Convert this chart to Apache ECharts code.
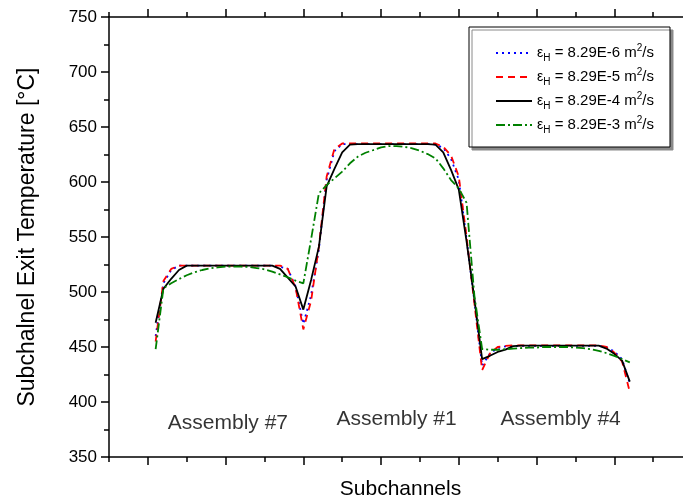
<!DOCTYPE html>
<html>
<head>
<meta charset="utf-8">
<script src="https://cdn.jsdelivr.net/npm/echarts@6/dist/echarts.min.js"></script>
<style>html,body{margin:0;padding:0;background:#fff}#c{width:683px;height:500px}</style>
</head>
<body>
<div id="c"></div>
<script>
// Subchannel positions (x)
const subchannels = [1,2,3,4,5,6,7,8,9,10,11,12,13,14,15,16,17,18,19,20,
  21,22,23,24,25,26,27,28,29,30,31,32,33,34,35,36,37,38,39,40,41,42,43,
  44,45,46,47,48,49,50,51,52,53,54,55,56,57,58,59,60,61,62];

// Series values (exit temperature, °C)
const tempE6 = [460,508,520,524,524,524,524,524,524,524,524,524,524,524,524,524,523,521,505,471,
  497,539,602,628,634.5,634.5,634.5,634.5,634.5,634.5,634.5,634.5,634.5,634.5,634.5,634.5,634,631,621,602,548,492,433,
  444,449,450.5,451,451,451,451,451,451,451,451,451,451,451,451,450,446,439,417];
const tempE5 = [455,510,521,524,524,524,524,524,524,524,524,524,524,524,524,524,524,521,504,466,
  492,541,605,630,635,635,635,635,635,635,635,635,635,635,635,635,635,632,624,605,550,490,429,
  444,450,451,451.5,451.5,451.5,451.5,451.5,451.5,451.5,451.5,451.5,451.5,451.5,451.5,450,445,437,409];
const tempE4 = [472,503,512,520,524,524,524,524,524,524,524,524,524,524,524,524,521,513,505,484,
  511,541,596,612,627,634,634.5,634.5,634.5,634.5,634.5,634.5,634.5,634.5,634.5,634.5,634,627,611,593,546,494,439,
  442,445.5,447.6,450.8,451.2,451.2,451.2,451.2,451.2,451.2,451.2,451.2,451.2,451.2,451.2,448.6,443.8,437.6,418.5];
const tempE3 = [448,503.4,507.9,511.8,515.2,517.9,520,521.5,522.4,523,523,523,522.7,521.8,520.6,518.5,516,513.4,510.3,507.9,
  548,589.7,597.2,603.3,609.4,617,623,626.6,629,631.5,632.7,632.7,632,630.6,628.4,625.4,621.5,612.4,601.8,594.2,581,497,448.2,
  447.5,447.5,448,448.5,449,449.5,449.5,450,450,450,450,449.5,449,448,446.5,444.5,442,439,436];

const coefficients = ['8.29E-6','8.29E-5','8.29E-4','8.29E-3'];
const seriesNames = coefficients.map(c => 'εH = ' + c + ' m2/s');

// Axis ticks
const xMajorTicks = [0,10,20,30,40,50,60,70];
const xMinorTicks = [-5,5,15,25,35,45,55,65];

// Annotations
const assemblyNames = ['Assembly #7','Assembly #1','Assembly #4'];
const assemblyX = [10.3, 32, 53.1];
const assemblyY = [380.5, 384, 384];

const FONT = 'Liberation Sans, Arial, sans-serif';
const chart = echarts.init(document.getElementById('c'), null, {renderer:'canvas'});

const lineStyles = [
  {color:'#0000ff', type:[2,4]},
  {color:'#ff0000', type:[7,5]},
  {color:'#000000', type:'solid'},
  {color:'#008000', type:[9,3,2,3]}
];
const dataSets = [tempE6, tempE5, tempE4, tempE3];

const X_MIN = -5, X_MAX = 70;
const gridBox = {left:109, top:17, right:-9, bottom:43, outerBoundsMode:'none', containLabel:false};
const axLine = {onZero:false, lineStyle:{color:'#000', width:1.5}};

const series = dataSets.map((arr, i) => ({
  type:'line', name: seriesNames[i], xAxisIndex:0, yAxisIndex:0,
  data: subchannels.map((x, k) => [x, arr[k]]),
  symbol:'none', showSymbol:false, smooth:false,
  lineStyle:{color:lineStyles[i].color, type:lineStyles[i].type, width:1.8},
  itemStyle:{color:lineStyles[i].color},
  z: 2 + i
}));
series.push({
  type:'scatter', name:'annotations', xAxisIndex:0, yAxisIndex:0,
  symbolSize:0, silent:true,
  data: assemblyNames.map((n, i) => ({name:n, value:[assemblyX[i], assemblyY[i]]})),
  label:{show:true, position:'inside', formatter: p => p.name, color:'#000', fontSize:21, fontFamily:FONT}
});

const option = {
  animation:false,
  backgroundColor:'#fff',
  textStyle:{fontFamily:FONT},
  grid:[Object.assign({}, gridBox), Object.assign({}, gridBox)],
  xAxis:[
    {type:'value', gridIndex:0, position:'bottom', min:X_MIN, max:X_MAX,
     name:'Subchannels', nameLocation:'middle', nameGap:22,
     nameTextStyle:{fontSize:21, color:'#000', fontFamily:FONT},
     axisLine:axLine, axisTick:{show:true, customValues:xMajorTicks, length:8, lineStyle:{color:'#000', width:1.5}},
     axisLabel:{show:false}, splitLine:{show:false}},
    {type:'value', gridIndex:0, position:'top', min:X_MIN, max:X_MAX,
     axisLine:axLine, axisTick:{show:true, customValues:xMajorTicks, length:8, lineStyle:{color:'#000', width:1.5}},
     axisLabel:{show:false}, splitLine:{show:false}},
    {type:'value', gridIndex:1, position:'bottom', min:X_MIN, max:X_MAX,
     axisLine:{show:false, onZero:false}, axisTick:{show:true, customValues:xMinorTicks, length:5, lineStyle:{color:'#000', width:1.5}},
     axisLabel:{show:false}, splitLine:{show:false}},
    {type:'value', gridIndex:1, position:'top', min:X_MIN, max:X_MAX,
     axisLine:{show:false, onZero:false}, axisTick:{show:true, customValues:xMinorTicks, length:5, lineStyle:{color:'#000', width:1.5}},
     axisLabel:{show:false}, splitLine:{show:false}}
  ],
  yAxis:[
    {type:'value', gridIndex:0, min:350, max:750, interval:50,
     name:'Subchalnel Exit Temperature [°C]', nameLocation:'middle', nameGap:70,
     nameTextStyle:{fontSize:23, color:'#000', fontFamily:FONT},
     axisLine:{show:true, onZero:false, lineStyle:{color:'#000', width:1.5}},
     axisTick:{show:true, length:8, lineStyle:{color:'#000', width:1.5}},
     minorTick:{show:true, splitNumber:2, length:5, lineStyle:{color:'#000', width:1.5}},
     axisLabel:{color:'#000', fontSize:17, margin:12, fontFamily:FONT},
     splitLine:{show:false}},
    {type:'value', gridIndex:1, min:350, max:750, show:false, axisLine:{onZero:false}}
  ],
  legend:{
    data: seriesNames,
    orient:'vertical', left:469, top:27,
    padding:[16,16,12,26], itemGap:4, itemWidth:36, itemHeight:14,
    backgroundColor:'#fff', borderColor:'#000', borderWidth:1,
    shadowColor:'#8a8a8a', shadowOffsetX:3, shadowOffsetY:3, shadowBlur:0,
    itemStyle:{opacity:0},
    formatter: name => {
      const c = coefficients[seriesNames.indexOf(name)];
      return '{eps|ε}{sub|H}{t| = ' + c + ' m}{sup|2}{t|/s}';
    },
    textStyle:{
      color:'#000', fontFamily:FONT, fontSize:15,
      rich:{
        t:{fontSize:15, lineHeight:20, color:'#000', fontFamily:FONT},
        eps:{fontSize:14, lineHeight:20, color:'#000', fontFamily:FONT},
        sub:{fontSize:10, lineHeight:10, verticalAlign:'bottom', color:'#000', fontFamily:FONT},
        sup:{fontSize:10, lineHeight:10, verticalAlign:'top', color:'#000', fontFamily:FONT}
      }
    }
  },
  series: series
};
chart.setOption(option);
</script>
</body>
</html>
